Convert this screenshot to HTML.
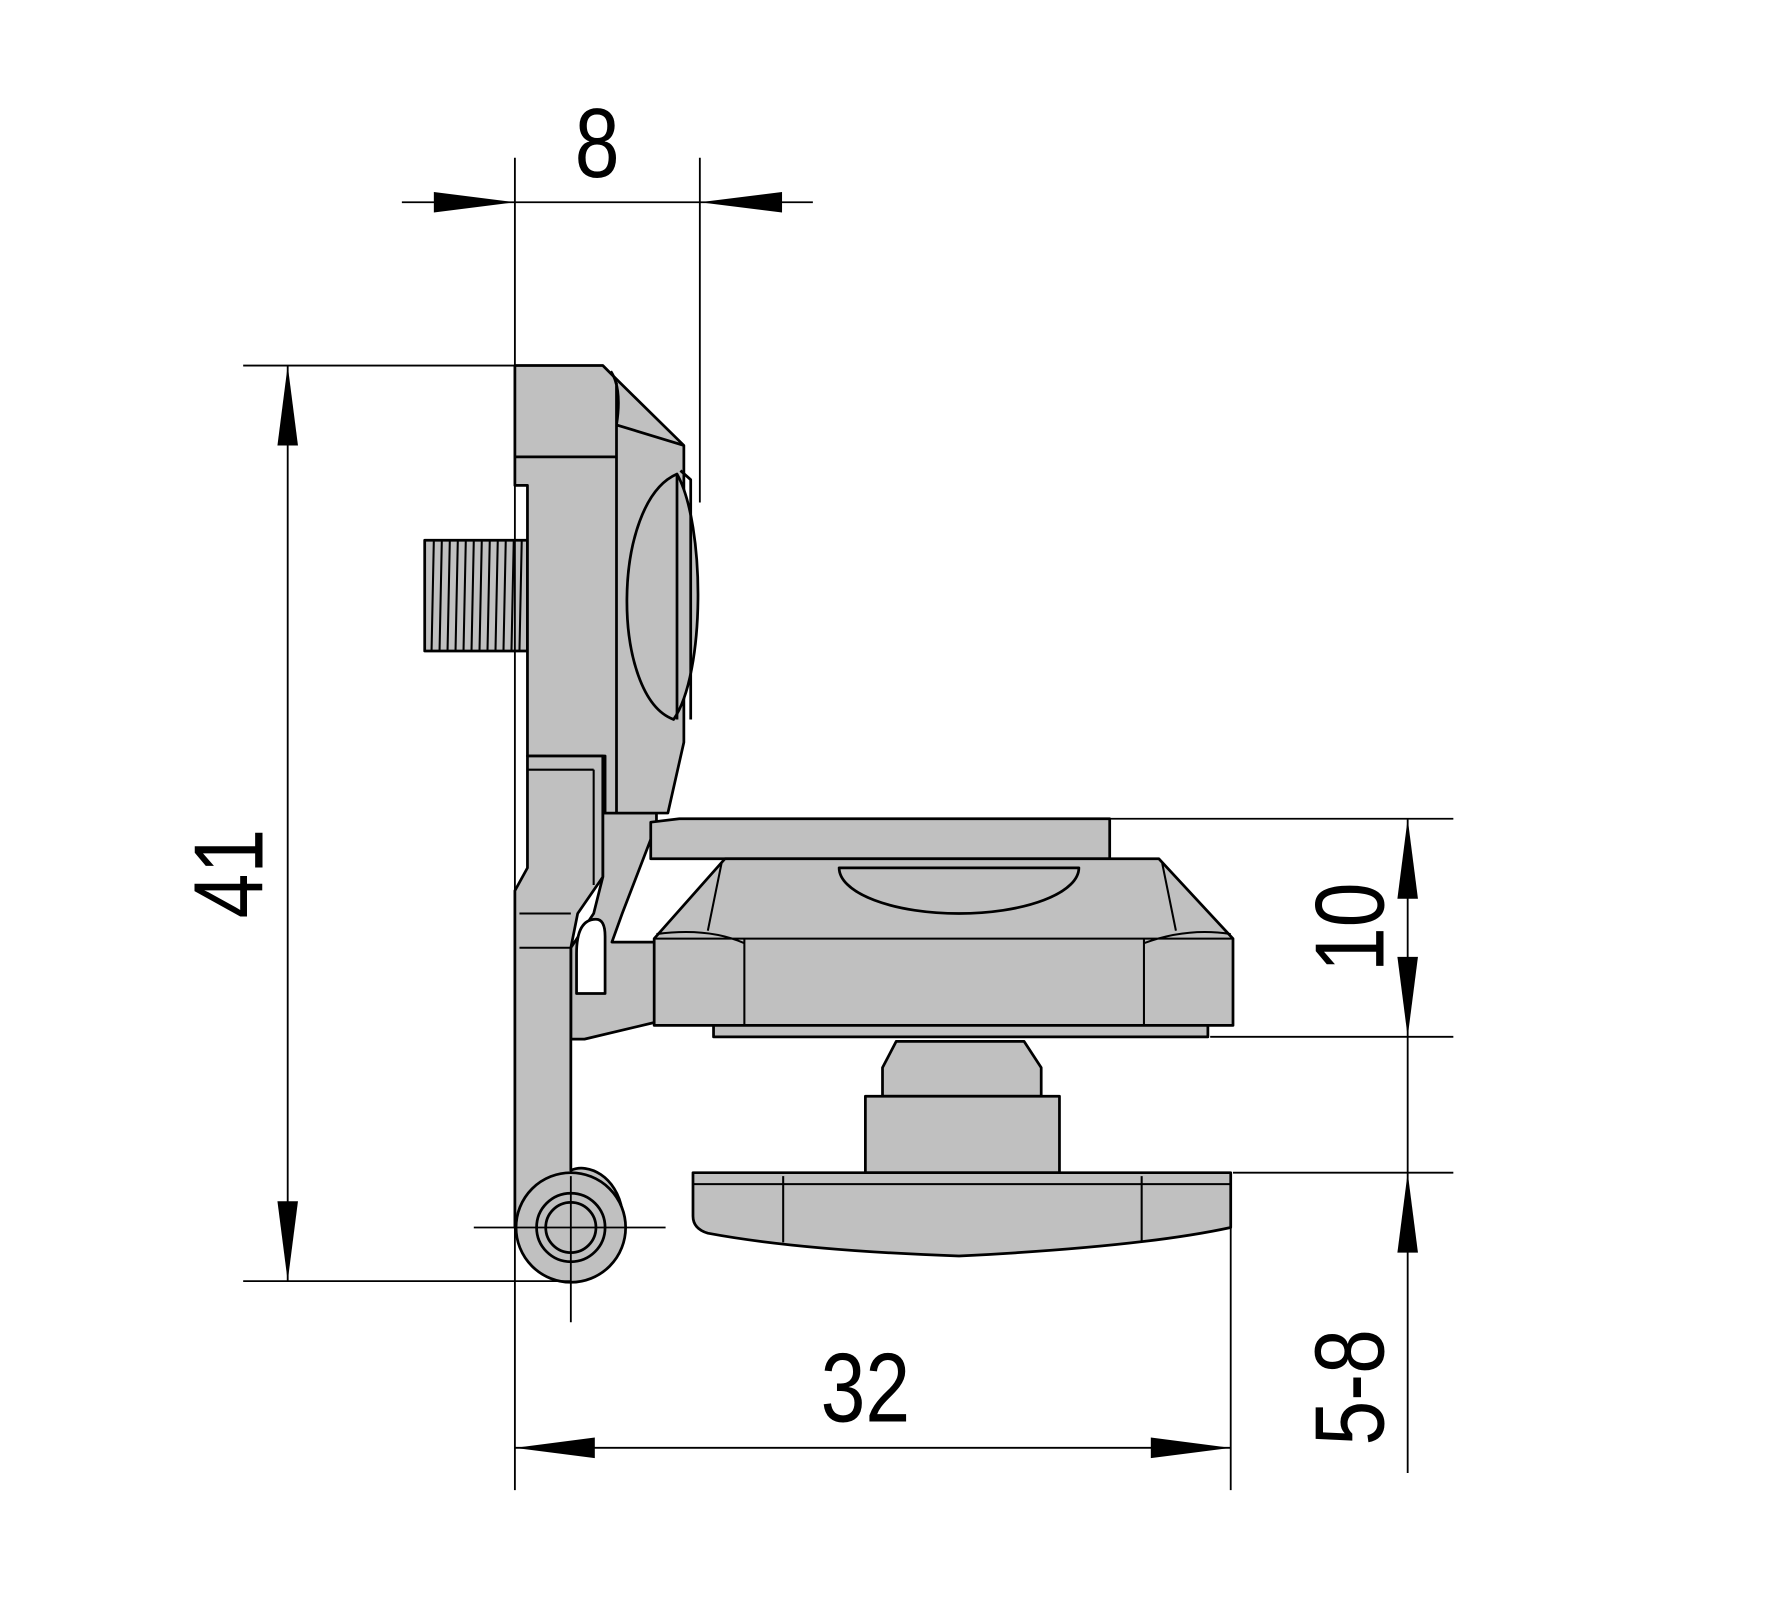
<!DOCTYPE html>
<html><head><meta charset="utf-8"><style>
html,body{margin:0;padding:0;background:#fff;}
svg{display:block;}
text{font-family:"Liberation Sans",sans-serif;fill:#000;}
</style></head><body>
<svg width="1781" height="1609" viewBox="0 0 1560 1409" xmlns="http://www.w3.org/2000/svg">
<g fill="#c0c0c0" stroke="#000" stroke-width="2.4" stroke-linejoin="round">
<rect x="372" y="473" width="90" height="97"/>
<g stroke-width="1.8" fill="none">
<path d="M380,473 L378,570 M387,473 L385,570 M394,473 L392,570 M401,473 L399,570 M408,473 L406,570 M415,473 L413,570 M422,473 L420,570 M429,473 L427,570 M436,473 L434,570 M443,473 L441,570 M450,473 L448,570 M457,473 L455,570"/>
</g>
<path d="M528,712 L575,712 L575,722 L545,800 L536,825 L575,825 L575,895 L512,910 L500,910 L500,830 L520,800 L528,768 Z"/>
<path d="M451,320 L528,320 L540,332 L599,390 L599,650 L585,712 L530,712 L530,662 L462,662 L462,425 L451,425 Z"/>
<path d="M451,400 L540,400 M540,335 L540,712 M540,372 L599,390 M535,325 Q545,340 540,372" fill="none"/>
<path d="M593,415 C535,440 535,610 590,630 C618,590 618,460 593,415 Z"/>
<path d="M593,415 L593,630 M596,412 L605,420 L605,630" fill="none"/>
<path d="M462,662 L528,662 L528,768 L506,800 L500,830 L500,1025 C515,1018 540,1030 545,1060 L455,1075 L451,1075 L451,780 L462,760 Z"/>
<path d="M462,674 L520,674 M520,674 L520,775 M455,800 L500,800 M455,830 L500,830" fill="none" stroke-width="1.8"/>
<path d="M505,835 Q505,805 522,805 Q530,805 530,820 L530,870 L505,870 Z" fill="#fff"/>
<circle cx="500" cy="1075" r="48"/>
<circle cx="500" cy="1075" r="30" fill="none"/>
<circle cx="500" cy="1075" r="22"/>
<path d="M570,720 L595,717 L972,717 L972,752 L570,752 Z"/>
<path d="M573,822 L635,752 L1015,752 L1080,822 L1080,898 L573,898 Z"/>
<path d="M573,822 L1080,822 M652,822 L652,898 M1002,822 L1002,898 M575,818 Q620,812 652,826 M1002,826 Q1040,812 1078,818 M632,756 L620,815 M1018,756 L1030,815" fill="none" stroke-width="1.8"/>
<path d="M735,760 A105,40 0 0 0 945,760 Z"/>
<rect x="625" y="898" width="433" height="10"/>
<path d="M785,912 L897,912 L912,935 L912,960 L773,960 L773,935 Z"/>
<rect x="758" y="960" width="170" height="67"/>
<path d="M607,1027 L1078,1027 L1078,1075 Q1000,1092 840,1100 Q700,1095 620,1080 Q607,1076 607,1065 Z"/>
<path d="M607,1037 L1078,1037 M686,1030 L686,1088 M1000,1030 L1000,1088" fill="none" stroke-width="1.8"/>
</g>
<g stroke="#000" stroke-width="1.6" fill="none">
<path d="M451,138 L451,1305 M613,138 L613,440 M352,177 L712,177"/>
<path d="M213,320 L451,320 M213,1122 L500,1122 M252,320 L252,1122"/>
<path d="M960,717 L1273,717 M1060,908 L1273,908 M1080,1027 L1273,1027 M1233,717 L1233,1290"/>
<path d="M1078,1030 L1078,1305 M451,1268 L1078,1268"/>
<path d="M415,1075 L583,1075 M500,1030 L500,1158"/>
</g>
<g fill="#000">
<path d="M451,177 L380,168 L380,186 Z"/>
<path d="M613,177 L685,168 L685,186 Z"/>
<path d="M252,320 L243,390 L261,390 Z"/>
<path d="M252,1122 L243,1052 L261,1052 Z"/>
<path d="M1233,717 L1224,787 L1242,787 Z"/>
<path d="M1233,908 L1224,838 L1242,838 Z"/>
<path d="M1233,1027 L1224,1097 L1242,1097 Z"/>
<path d="M451,1268 L521,1259 L521,1277 Z"/>
<path d="M1078,1268 L1008,1259 L1008,1277 Z"/>
</g>
<g font-size="86">
<text transform="translate(523,155) scale(0.82,1)" text-anchor="middle">8</text>
<text transform="translate(758,1245) scale(0.82,1)" text-anchor="middle">32</text>
<text transform="translate(230,765) rotate(-90) scale(0.82,1)" text-anchor="middle">41</text>
<text transform="translate(1212,812) rotate(-90) scale(0.82,1)" text-anchor="middle">10</text>
<text transform="translate(1212,1215) rotate(-90) scale(0.82,1)" text-anchor="middle">5-8</text>
</g>
</svg>
</body></html>
